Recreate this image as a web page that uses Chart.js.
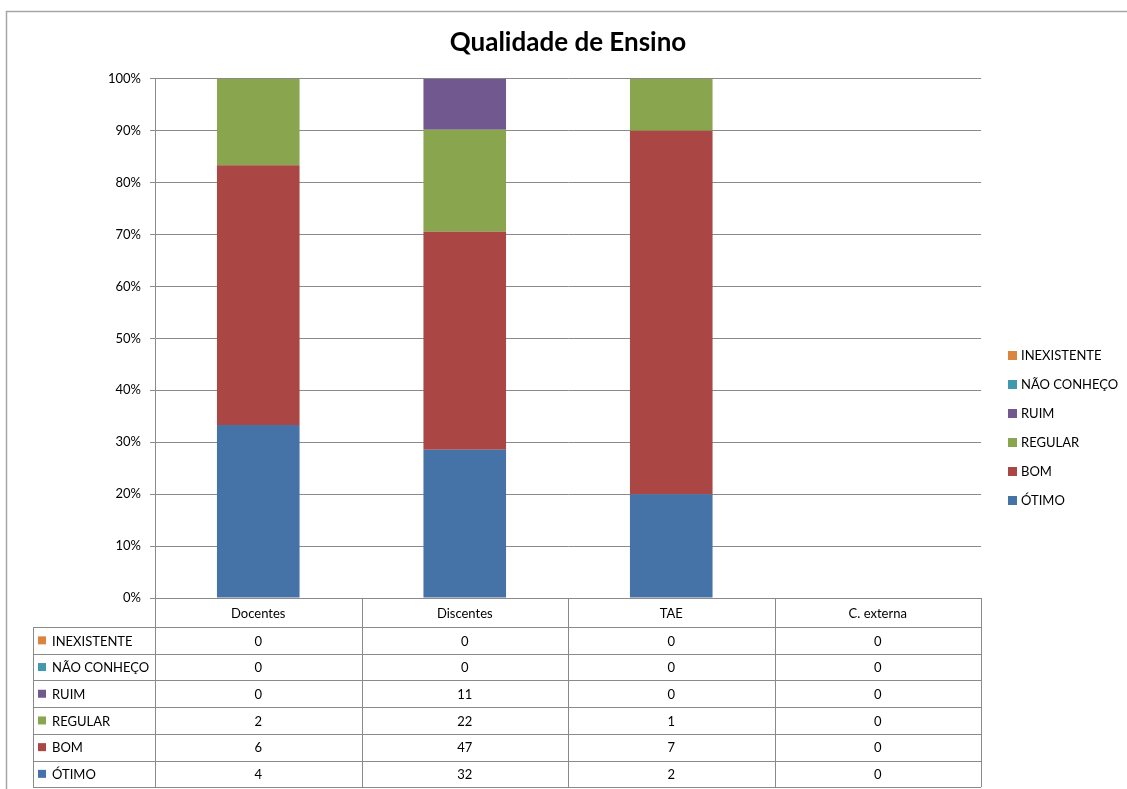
<!DOCTYPE html>
<html>
<head>
<meta charset="utf-8">
<title>Qualidade de Ensino</title>
<script src="https://cdn.jsdelivr.net/npm/chart.js@4.4.1/dist/chart.umd.min.js"></script>
<style>
  html, body { margin: 0; padding: 0; background: #fff; }
  #wrap { width: 1127px; height: 789px; }
</style>
</head>
<body>
<div id="wrap"><canvas id="chart" width="1127" height="789"></canvas></div>
<script>
// Categories (columns of the table)
const categories = ['Docentes', 'Discentes', 'TAE', 'C. externa'];

// Series, counts per category (as shown in the data table)
const otimo = [4, 32, 2, 0];
const bom = [6, 47, 7, 0];
const regular = [2, 22, 1, 0];
const ruim = [0, 11, 0, 0];
const naoConheco = [0, 0, 0, 0];
const inexistente = [0, 0, 0, 0];

// Y axis ticks (percent)
const yTicks = [0, 10, 20, 30, 40, 50, 60, 70, 80, 90, 100];

const FONT = 'Lato, "Open Sans", sans-serif';
const GRID = '#8a8a8a';

// Series list, bottom of the stack first
const series = [
    { label: 'ÓTIMO', data: otimo, color: '#4572A7' },
    { label: 'BOM', data: bom, color: '#AA4643' },
    { label: 'REGULAR', data: regular, color: '#89A54E' },
    { label: 'RUIM', data: ruim, color: '#71588F' },
    { label: 'NÃO CONHEÇO', data: naoConheco, color: '#4198AF' },
    { label: 'INEXISTENTE', data: inexistente, color: '#DB843D' }
];

// Totals per category, for 100% stacking
const totals = categories.map((c, i) => series.reduce((s, d) => s + d.data[i], 0));

const datasets = series.map(s => ({
    label: s.label,
    data: s.data.map((v, i) => totals[i] ? v / totals[i] * 100 : 0),
    backgroundColor: s.color,
    borderWidth: 0,
    categoryPercentage: 1,
    barPercentage: 0.4
}));

// Draws the outer frame, the legend on the right and the data table under the plot
const tablePlugin = {
    id: 'dataTable',
    afterDraw(chart) {
        const ctx = chart.ctx;
        const area = chart.chartArea;
        const xs = chart.scales.x;
        const half = (xs.getPixelForValue(1) - xs.getPixelForValue(0)) / 2;
        const edges = categories.map((c, i) => xs.getPixelForValue(i) - half);
        edges.push(xs.getPixelForValue(categories.length - 1) + half);

        const headerH = 29;
        const rowH = 26.7;
        const labelLeft = 33;
        const top = area.bottom;
        const rows = series.slice().reverse();
        const tableBottom = top + headerH + rowH * rows.length;

        ctx.save();

        // outer frame
        ctx.strokeStyle = '#a6a6a6';
        ctx.lineWidth = 1.5;
        ctx.beginPath();
        ctx.moveTo(6.5, chart.height);
        ctx.lineTo(6.5, 11.5);
        ctx.lineTo(chart.width, 11.5);
        ctx.stroke();

        // table grid
        ctx.strokeStyle = GRID;
        ctx.lineWidth = 1;
        ctx.beginPath();
        edges.forEach(x => {
            const px = Math.round(x) + 0.5;
            ctx.moveTo(px, top);
            ctx.lineTo(px, tableBottom);
        });
        ctx.moveTo(labelLeft + 0.5, top + headerH);
        ctx.lineTo(labelLeft + 0.5, tableBottom);
        for (let r = 0; r <= rows.length; r++) {
            const py = Math.round(top + headerH + rowH * r) + 0.5;
            ctx.moveTo(labelLeft, py);
            ctx.lineTo(edges[edges.length - 1], py);
        }
        ctx.stroke();

        ctx.fillStyle = '#000';
        ctx.font = '13px ' + FONT;
        ctx.textBaseline = 'middle';
        ctx.textAlign = 'center';
        categories.forEach((c, i) => {
            ctx.fillText(c, xs.getPixelForValue(i), top + headerH / 2 + 1);
        });

        rows.forEach((s, r) => {
            const cy = top + headerH + rowH * r + rowH / 2 + 1;
            ctx.fillStyle = s.color;
            ctx.fillRect(labelLeft + 5, cy - 5, 8, 8);
            ctx.fillStyle = '#000';
            ctx.textAlign = 'left';
            ctx.fillText(s.label, labelLeft + 19, cy);
            ctx.textAlign = 'center';
            s.data.forEach((v, i) => {
                ctx.fillText(String(v), xs.getPixelForValue(i), cy);
            });
        });

        // legend
        const legX = area.right + 27;
        const legTop = 356;
        const legStep = 29;
        ctx.textAlign = 'left';
        rows.forEach((s, r) => {
            const cy = legTop + legStep * r;
            ctx.fillStyle = s.color;
            ctx.fillRect(legX, cy - 5, 9, 9);
            ctx.fillStyle = '#000';
            ctx.fillText(s.label, legX + 13, cy);
        });

        ctx.restore();
    }
};

new Chart(document.getElementById('chart'), {
    type: 'bar',
    data: { labels: categories, datasets: datasets },
    options: {
        responsive: false,
        animation: false,
        layout: { padding: { top: 27, left: 0, right: 146, bottom: 191 } },
        plugins: {
            legend: { display: false },
            tooltip: { enabled: false },
            title: {
                display: true,
                text: 'Qualidade de Ensino',
                fullSize: false,
                color: '#000',
                font: { family: FONT, size: 26, weight: 'bold', lineHeight: 1.2 },
                padding: { top: 0, bottom: 20.5 }
            }
        },
        scales: {
            x: {
                display: false,
                stacked: true
            },
            y: {
                stacked: true,
                min: 0,
                max: 100,
                afterBuildTicks: axis => { axis.ticks = yTicks.map(v => ({ value: v })); },
                afterFit: axis => { axis.width = 155; },
                ticks: {
                    color: '#000',
                    padding: 9,
                    font: { family: FONT, size: 13 },
                    callback: v => v + '%'
                },
                grid: { color: GRID, tickLength: 5, drawTicks: true },
                border: { display: true, color: GRID }
            }
        }
    },
    plugins: [tablePlugin]
});
</script>
</body>
</html>
